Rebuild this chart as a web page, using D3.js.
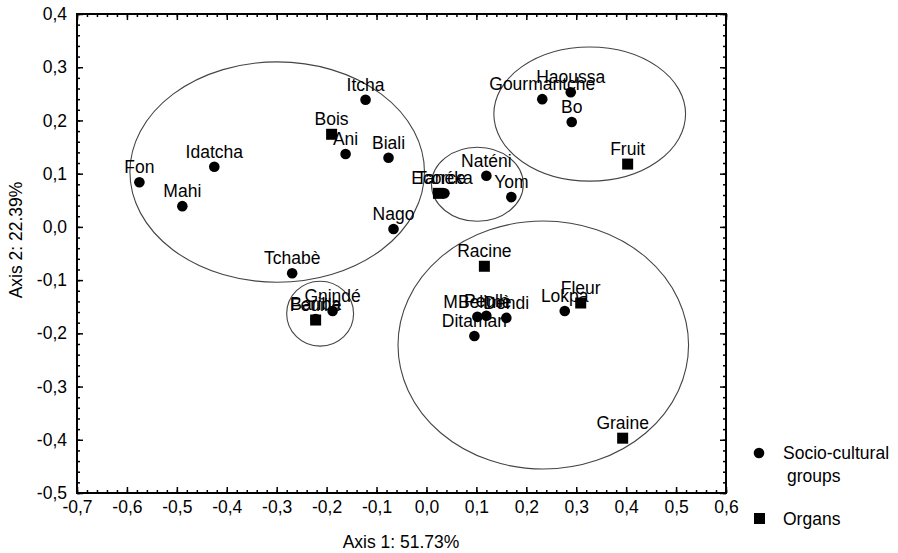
<!DOCTYPE html>
<html>
<head>
<meta charset="utf-8">
<script src="https://cdn.jsdelivr.net/npm/d3@7"></script>
<style>
  body { margin: 0; background: #fff; }
  svg { display: block; font-family: "Liberation Sans", Arial, sans-serif; }
</style>
</head>
<body>
<svg id="chart" width="898" height="553"></svg>
<script>

// socio-cultural groups (dots)
var groupNames = ["Fon", "Mahi", "Idatcha", "Itcha", "Ani", "Biali", "Nago", "Tchabè",
  "Gnindé", "Bariba", "Tanéka", "Naténi", "Yom", "Gourmantché", "Haoussa", "Bo",
  "MBelimè", "Peulh", "Dendi", "Ditamari", "Lokpa"];
var groupX = [-0.575, -0.489, -0.425, -0.122, -0.162, -0.076, -0.066, -0.269,
  -0.188, -0.222, 0.036, 0.120, 0.170, 0.232, 0.289, 0.291,
  0.102, 0.120, 0.160, 0.096, 0.277];
var groupY = [0.084, 0.039, 0.113, 0.239, 0.137, 0.130, -0.004, -0.087,
  -0.158, -0.173, 0.063, 0.096, 0.056, 0.240, 0.253, 0.197,
  -0.169, -0.167, -0.171, -0.205, -0.158];

// organs (squares)
var organNames = ["Bois", "Feuille", "Ecorce", "Fruit", "Racine", "Fleur", "Graine"];
var organX = [-0.190, -0.222, 0.024, 0.403, 0.116, 0.309, 0.393];
var organY = [0.174, -0.175, 0.063, 0.118, -0.074, -0.143, -0.397];

// hand drawn clusters: centre and radii in axis units
var ellCx = [-0.299, -0.213, 0.102, 0.327, 0.234];
var ellCy = [0.103, -0.163, 0.080, 0.212, -0.222];
var ellRx = [0.295, 0.067, 0.092, 0.192, 0.291];
var ellRy = [0.207, 0.061, 0.0695, 0.126, 0.233];

var xTicks = [-0.7, -0.6, -0.5, -0.4, -0.3, -0.2, -0.1, 0.0, 0.1, 0.2, 0.3, 0.4, 0.5, 0.6];
var yTicks = [-0.5, -0.4, -0.3, -0.2, -0.1, 0.0, 0.1, 0.2, 0.3, 0.4];
var xTitle = "Axis 1: 51.73%";
var yTitle = "Axis 2: 22.39%";
var legendLabels = [["Socio-cultural", "groups"], ["Organs"]];

var svg = d3.select("#chart");

var x = d3.scaleLinear().domain([-0.7, 0.6]).range([77, 726]);
var y = d3.scaleLinear().domain([-0.5, 0.4]).range([493, 14]);

var fmt = d3.formatLocale({decimal: ",", thousands: ".", grouping: [3], currency: ["", ""], minus: "-"}).format(".1f");

var xMinor = d3.range(-0.7, 0.6001, 0.02).map(function(d) { return +d.toFixed(2); });
var yMinor = d3.range(-0.5, 0.4001, 0.02).map(function(d) { return +d.toFixed(2); });

function axisStyle(g) {
  g.select(".domain").remove();
  g.selectAll("line").attr("stroke", "#000").attr("stroke-width", 1.5);
  g.selectAll("text").attr("fill", "#000").style("font-size", "17.5px").style("font-family", "Liberation Sans, Arial, sans-serif");
}

// bottom
svg.append("g").attr("transform", "translate(0,493)")
  .call(d3.axisBottom(x).tickValues(xMinor).tickSize(-3).tickFormat(""))
  .call(axisStyle);
svg.append("g").attr("transform", "translate(0,493)")
  .call(d3.axisBottom(x).tickValues(xTicks).tickSize(-6).tickPadding(8).tickFormat(fmt))
  .call(axisStyle);
// top
svg.append("g").attr("transform", "translate(0,14)")
  .call(d3.axisTop(x).tickValues(xMinor).tickSize(-3).tickFormat(""))
  .call(axisStyle);
svg.append("g").attr("transform", "translate(0,14)")
  .call(d3.axisTop(x).tickValues(xTicks).tickSize(-6).tickFormat(""))
  .call(axisStyle);
// left
svg.append("g").attr("transform", "translate(77,0)")
  .call(d3.axisLeft(y).tickValues(yMinor).tickSize(-3).tickFormat(""))
  .call(axisStyle);
svg.append("g").attr("transform", "translate(77,0)")
  .call(d3.axisLeft(y).tickValues(yTicks).tickSize(-6).tickPadding(10).tickFormat(fmt))
  .call(axisStyle);
// right
svg.append("g").attr("transform", "translate(726,0)")
  .call(d3.axisRight(y).tickValues(yMinor).tickSize(-3).tickFormat(""))
  .call(axisStyle);
svg.append("g").attr("transform", "translate(726,0)")
  .call(d3.axisRight(y).tickValues(yTicks).tickSize(-6).tickFormat(""))
  .call(axisStyle);

svg.append("rect")
  .attr("x", 77).attr("y", 14)
  .attr("width", 726 - 77).attr("height", 493 - 14)
  .attr("fill", "none").attr("stroke", "#000").attr("stroke-width", 2);

// axis titles
svg.append("text")
  .attr("x", 401).attr("y", 548)
  .attr("text-anchor", "middle")
  .style("font-size", "17.5px")
  .text(xTitle);

svg.append("text")
  .attr("transform", "translate(22,240) rotate(-90)")
  .attr("text-anchor", "middle")
  .style("font-size", "17.5px")
  .text(yTitle);

// ellipses
svg.append("g").selectAll("ellipse")
  .data(d3.range(ellCx.length))
  .enter().append("ellipse")
    .attr("cx", function(i) { return x(ellCx[i]); })
    .attr("cy", function(i) { return y(ellCy[i]); })
    .attr("rx", function(i) { return x(ellCx[i] + ellRx[i]) - x(ellCx[i]); })
    .attr("ry", function(i) { return y(ellCy[i]) - y(ellCy[i] + ellRy[i]); })
    .attr("fill", "none")
    .attr("stroke", "#444")
    .attr("stroke-width", 1.1);

var groups = groupNames.map(function(n, i) { return {name: n, x: groupX[i], y: groupY[i]}; });
var organs = organNames.map(function(n, i) { return {name: n, x: organX[i], y: organY[i]}; });

svg.append("g").selectAll("circle")
  .data(groups)
  .enter().append("circle")
    .attr("cx", function(d) { return x(d.x); })
    .attr("cy", function(d) { return y(d.y); })
    .attr("r", 5.3)
    .attr("fill", "#000");

svg.append("g").selectAll("rect")
  .data(organs)
  .enter().append("rect")
    .attr("x", function(d) { return x(d.x) - 5.5; })
    .attr("y", function(d) { return y(d.y) - 5.5; })
    .attr("width", 11).attr("height", 11)
    .attr("fill", "#000");

svg.append("g").selectAll("text")
  .data(groups.concat(organs))
  .enter().append("text")
    .attr("x", function(d) { return x(d.x); })
    .attr("y", function(d) { return y(d.y) - 9; })
    .attr("text-anchor", "middle")
    .style("font-size", "17.5px")
    .text(function(d) { return d.name; });

// legend
var legend = svg.append("g");
legend.append("circle").attr("cx", 759).attr("cy", 453).attr("r", 5.3).attr("fill", "#000");
legend.append("text").attr("x", 783).attr("y", 459).style("font-size", "17.5px").text(legendLabels[0][0]);
legend.append("text").attr("x", 787).attr("y", 482).style("font-size", "17.5px").text(legendLabels[0][1]);
legend.append("rect").attr("x", 754).attr("y", 513).attr("width", 11).attr("height", 11).attr("fill", "#000");
legend.append("text").attr("x", 783).attr("y", 525).style("font-size", "17.5px").text(legendLabels[1][0]);

</script>
</body>
</html>
